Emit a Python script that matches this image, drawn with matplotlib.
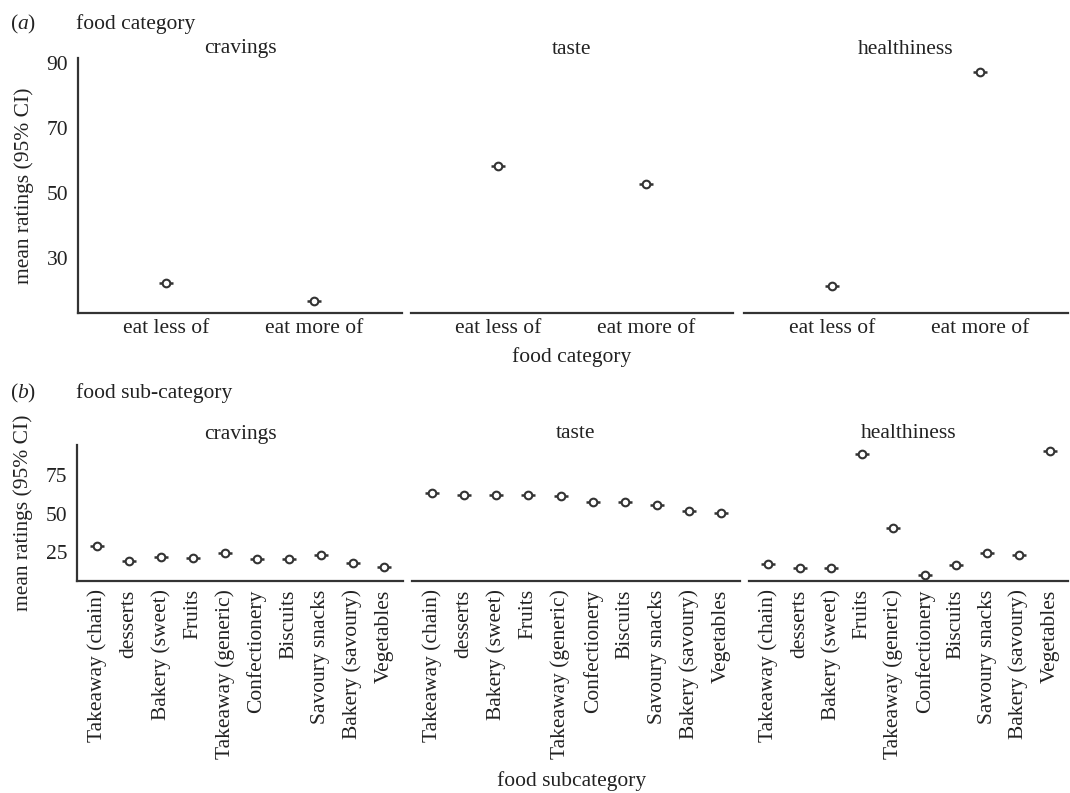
import matplotlib
matplotlib.use("Agg")
import matplotlib.pyplot as plt

# panel (a): food category
categories = ['eat less of', 'eat more of']
cat_cravings = [22.3, 16.8]
cat_taste = [58.3, 52.8]
cat_health = [21.4, 87.2]

# panel (b): food sub-category
subcategories = ['Takeaway (chain)', 'desserts', 'Bakery (sweet)', 'Fruits',
                 'Takeaway (generic)', 'Confectionery', 'Biscuits',
                 'Savoury snacks', 'Bakery (savoury)', 'Vegetables']
sub_cravings = [28.9, 19.2, 21.8, 21.1, 24.4, 20.5, 20.5, 23.0, 17.9, 15.3]
sub_taste = [63.3, 62.0, 62.0, 62.0, 61.3, 57.5, 57.5, 55.5, 51.6, 50.3]
sub_health = [17.2, 14.6, 14.6, 88.6, 40.6, 10.0, 16.6, 24.4, 23.0, 90.5]

facets = ['cravings', 'taste', 'healthiness']

plt.rcParams['font.family'] = ['Liberation Serif', 'DejaVu Serif']
plt.rcParams['mathtext.fontset'] = 'custom'
plt.rcParams['mathtext.rm'] = 'Liberation Serif'
plt.rcParams['mathtext.it'] = 'Liberation Serif:italic'
FS = 15.5
plt.rcParams['font.size'] = FS
INK = '#333333'
TXT = '#222222'

W, H = 1070, 793
fig = plt.figure(figsize=(W / 100, H / 100), dpi=100)


def px_axes(x0, y0, x1, y1):
    return fig.add_axes([x0 / W, 1 - y1 / H, (x1 - x0) / W, (y1 - y0) / H])


def draw_points(ax, labels, values):
    xs = range(len(labels))
    ax.plot(xs, values, ls='none', marker='_', ms=10, mew=1.8, color=INK, zorder=2)
    ax.plot(xs, values, ls='none', marker='o', ms=5.5, mew=1.5,
            mec=INK, mfc='white', zorder=3)


def style(ax, first):
    for s in ['top', 'right']:
        ax.spines[s].set_visible(False)
    for s in ['bottom', 'left']:
        ax.spines[s].set_color(INK)
        ax.spines[s].set_linewidth(1.6)
    ax.tick_params(length=0, colors=TXT, labelsize=FS)
    if not first:
        ax.spines['left'].set_visible(False)
        ax.tick_params(axis='y', labelleft=False)


def facet_title(ax, text, top_px, height_px):
    ax.text(0.5, 1.0 + top_px / height_px, text, transform=ax.transAxes,
            ha='center', va='center', fontsize=FS, color=TXT)


# ---- panel (a)
a_cols = [(78, 402), (411, 733), (744, 1068)]
a_data = [cat_cravings, cat_taste, cat_health]
for i, ((x0, x1), vals) in enumerate(zip(a_cols, a_data)):
    ax = px_axes(x0, 58, x1, 313)
    draw_points(ax, categories, vals)
    ax.set_xlim(-0.59, 1.59)
    ax.set_ylim(13.1, 91.5)
    ax.set_yticks([30, 50, 70, 90])
    ax.set_xticks(range(len(categories)))
    ax.set_xticklabels(categories)
    ax.tick_params(axis='x', pad=4)
    ax.tick_params(axis='y', pad=7)
    style(ax, i == 0)
    facet_title(ax, facets[i], 9, 255)
    if i == 0:
        ax.set_ylabel('mean ratings (95% CI)', fontsize=FS, labelpad=9, color=TXT)

# ---- panel (b)
b_cols = [(77, 403), (412, 740), (749, 1068)]
b_data = [sub_cravings, sub_taste, sub_health]
for i, ((x0, x1), vals) in enumerate(zip(b_cols, b_data)):
    ax = px_axes(x0, 445, x1, 581)
    draw_points(ax, subcategories, vals)
    ax.set_xlim(-0.62, 9.58)
    ax.set_ylim(6.2, 94.5)
    ax.set_yticks([25, 50, 75])
    ax.set_xticks(range(len(subcategories)))
    ax.set_xticklabels(subcategories, rotation=90)
    ax.tick_params(axis='x', pad=6)
    ax.tick_params(axis='y', pad=7)
    style(ax, i == 0)
    facet_title(ax, facets[i], 11, 136)
    if i == 0:
        ax.set_ylabel('mean ratings (95% CI)', fontsize=FS, labelpad=9, color=TXT)

# panel labels and captions
fig.text(10 / W, 1 - 24 / H, r'($\mathit{a}$)', fontsize=FS, va='center', color=TXT)
fig.text(76 / W, 1 - 24 / H, 'food category', fontsize=FS, va='center', color=TXT)
fig.text(572 / W, 1 - 357 / H, 'food category', fontsize=FS, ha='center',
         va='center', color=TXT)

fig.text(10 / W, 1 - 393 / H, r'($\mathit{b}$)', fontsize=FS, va='center', color=TXT)
fig.text(76 / W, 1 - 393 / H, 'food sub-category', fontsize=FS, va='center', color=TXT)
fig.text(572 / W, 1 - 781 / H, 'food subcategory', fontsize=FS, ha='center',
         va='center', color=TXT)

fig.savefig('out.png', dpi=100)
